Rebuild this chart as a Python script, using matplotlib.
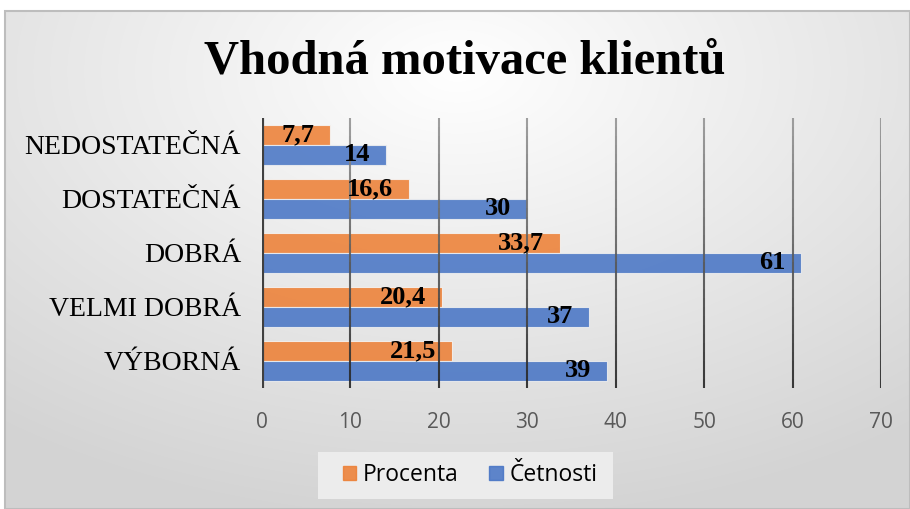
import numpy as np
import matplotlib
matplotlib.use("Agg")
import matplotlib.pyplot as plt
from matplotlib.patches import Rectangle
from matplotlib.collections import LineCollection

categories = ["VÝBORNÁ", "VELMI DOBRÁ", "DOBRÁ", "DOSTATEČNÁ", "NEDOSTATEČNÁ"]
procenta = [21.5, 20.4, 33.7, 16.6, 7.7]
cetnosti = [39, 37, 61, 30, 14]
procenta_labels = ["21,5", "20,4", "33,7", "16,6", "7,7"]
cetnosti_labels = ["39", "37", "61", "30", "14"]
xticks = [0, 10, 20, 30, 40, 50, 60, 70]

W, H = 910, 509
fig = plt.figure(figsize=(W / 100, H / 100), dpi=100)
fig.patch.set_facecolor("white")

# background panel with radial gradient
x0 = 5 / W
bw, bh = 1 - x0, (H - 11) / H
bg = fig.add_axes([x0, 0, bw, bh], zorder=0)
gx = np.linspace(0, 1, 400)
gy = np.linspace(0, 1, 250)
X, Y = np.meshgrid(gx, gy)
cx, cy = 0.5, 0.12
d = np.sqrt(((X - cx) * 1.0) ** 2 + ((Y - cy) * 0.9) ** 2)
d = d / d.max()
val = 1.0 - 0.17 * np.clip(d * 1.15, 0, 1)
bg.imshow(np.dstack([val, val, val]), aspect="auto", extent=[0, 1, 0, 1],
          origin="upper", interpolation="bilinear")
bg.set_xlim(0, 1)
bg.set_ylim(0, 1)
bg.axis("off")
fig.add_artist(Rectangle((x0, 0), bw, bh, transform=fig.transFigure,
                         fill=False, edgecolor="#bdbdbd", lw=1.5, zorder=1))

ax = fig.add_axes([262 / W, 1 - 388 / H, (881 - 262) / W, (388 - 118) / H], zorder=2)
ax.patch.set_alpha(0)

y = np.arange(len(categories))
h = 0.37
ax.barh(y + h / 2, procenta, height=h, color="#ED7D31", alpha=0.85,
        edgecolor="#f5f5f5", linewidth=0.8, zorder=2)
ax.barh(y - h / 2, cetnosti, height=h, color="#4472C4", alpha=0.85,
        edgecolor="#f0f0f0", linewidth=0.8, zorder=2)

# gridlines with vertical gradient (gray at top, dark at bottom)
nseg = 30
ys = np.linspace(4.5, -0.5, nseg + 1)
for xv in xticks[1:]:
    segs = [[(xv, ys[k]), (xv, ys[k + 1])] for k in range(nseg)]
    shades = np.linspace(0.58, 0.15, nseg)
    cols = [(s, s, s, 0.9) for s in shades]
    ax.add_collection(LineCollection(segs, colors=cols, linewidths=1.5, zorder=3))
ax.axvline(0, color="#404040", lw=3, zorder=4)

pad = 1.8
for i in range(len(categories)):
    ax.text(procenta[i] - pad, y[i] + h / 2, procenta_labels[i], ha="right", va="center",
            family="Liberation Serif", fontweight="bold", fontsize=19, color="black", zorder=5)
    ax.text(cetnosti[i] - pad, y[i] - h / 2, cetnosti_labels[i], ha="right", va="center",
            family="Liberation Serif", fontweight="bold", fontsize=19, color="black", zorder=5)

ax.set_xlim(0, 70)
ax.set_ylim(-0.5, 4.5)
ax.set_xticks(xticks)
ax.set_xticklabels([str(t) for t in xticks], family="Open Sans", fontsize=15, color="#595959")
ax.set_yticks(y)
ax.set_yticklabels(categories, family="Liberation Serif", fontsize=20, color="black")
ax.tick_params(axis="both", length=0)
ax.tick_params(axis="x", pad=17)
ax.tick_params(axis="y", pad=15)
for s in ax.spines.values():
    s.set_visible(False)

fig.text(465 / W, 1 - 62 / H, "Vhodná motivace klientů", ha="center", va="center",
         family="Liberation Serif", fontweight="bold", fontsize=35, color="black")

# legend
fig.add_artist(Rectangle((318 / W, 1 - 499 / H), (613 - 318) / W, (499 - 452) / H,
                         transform=fig.transFigure, facecolor="#ececec", edgecolor="none", zorder=3))
handles = [Rectangle((0, 0), 1, 1, color="#ED7D31", alpha=0.85),
           Rectangle((0, 0), 1, 1, color="#4472C4", alpha=0.85)]
leg = fig.legend(handles, ["Procenta", "Četnosti"], loc="center",
                 bbox_to_anchor=(470 / W, 1 - 475 / H), ncol=2, frameon=False,
                 prop={"family": "Open Sans", "size": 16.5}, handlelength=0.6, handleheight=0.6,
                 handletextpad=0.3, columnspacing=1.3)
for t in leg.get_texts():
    t.set_color("black")
leg.set_zorder(4)

fig.savefig("out.png", dpi=100, facecolor=fig.get_facecolor())
